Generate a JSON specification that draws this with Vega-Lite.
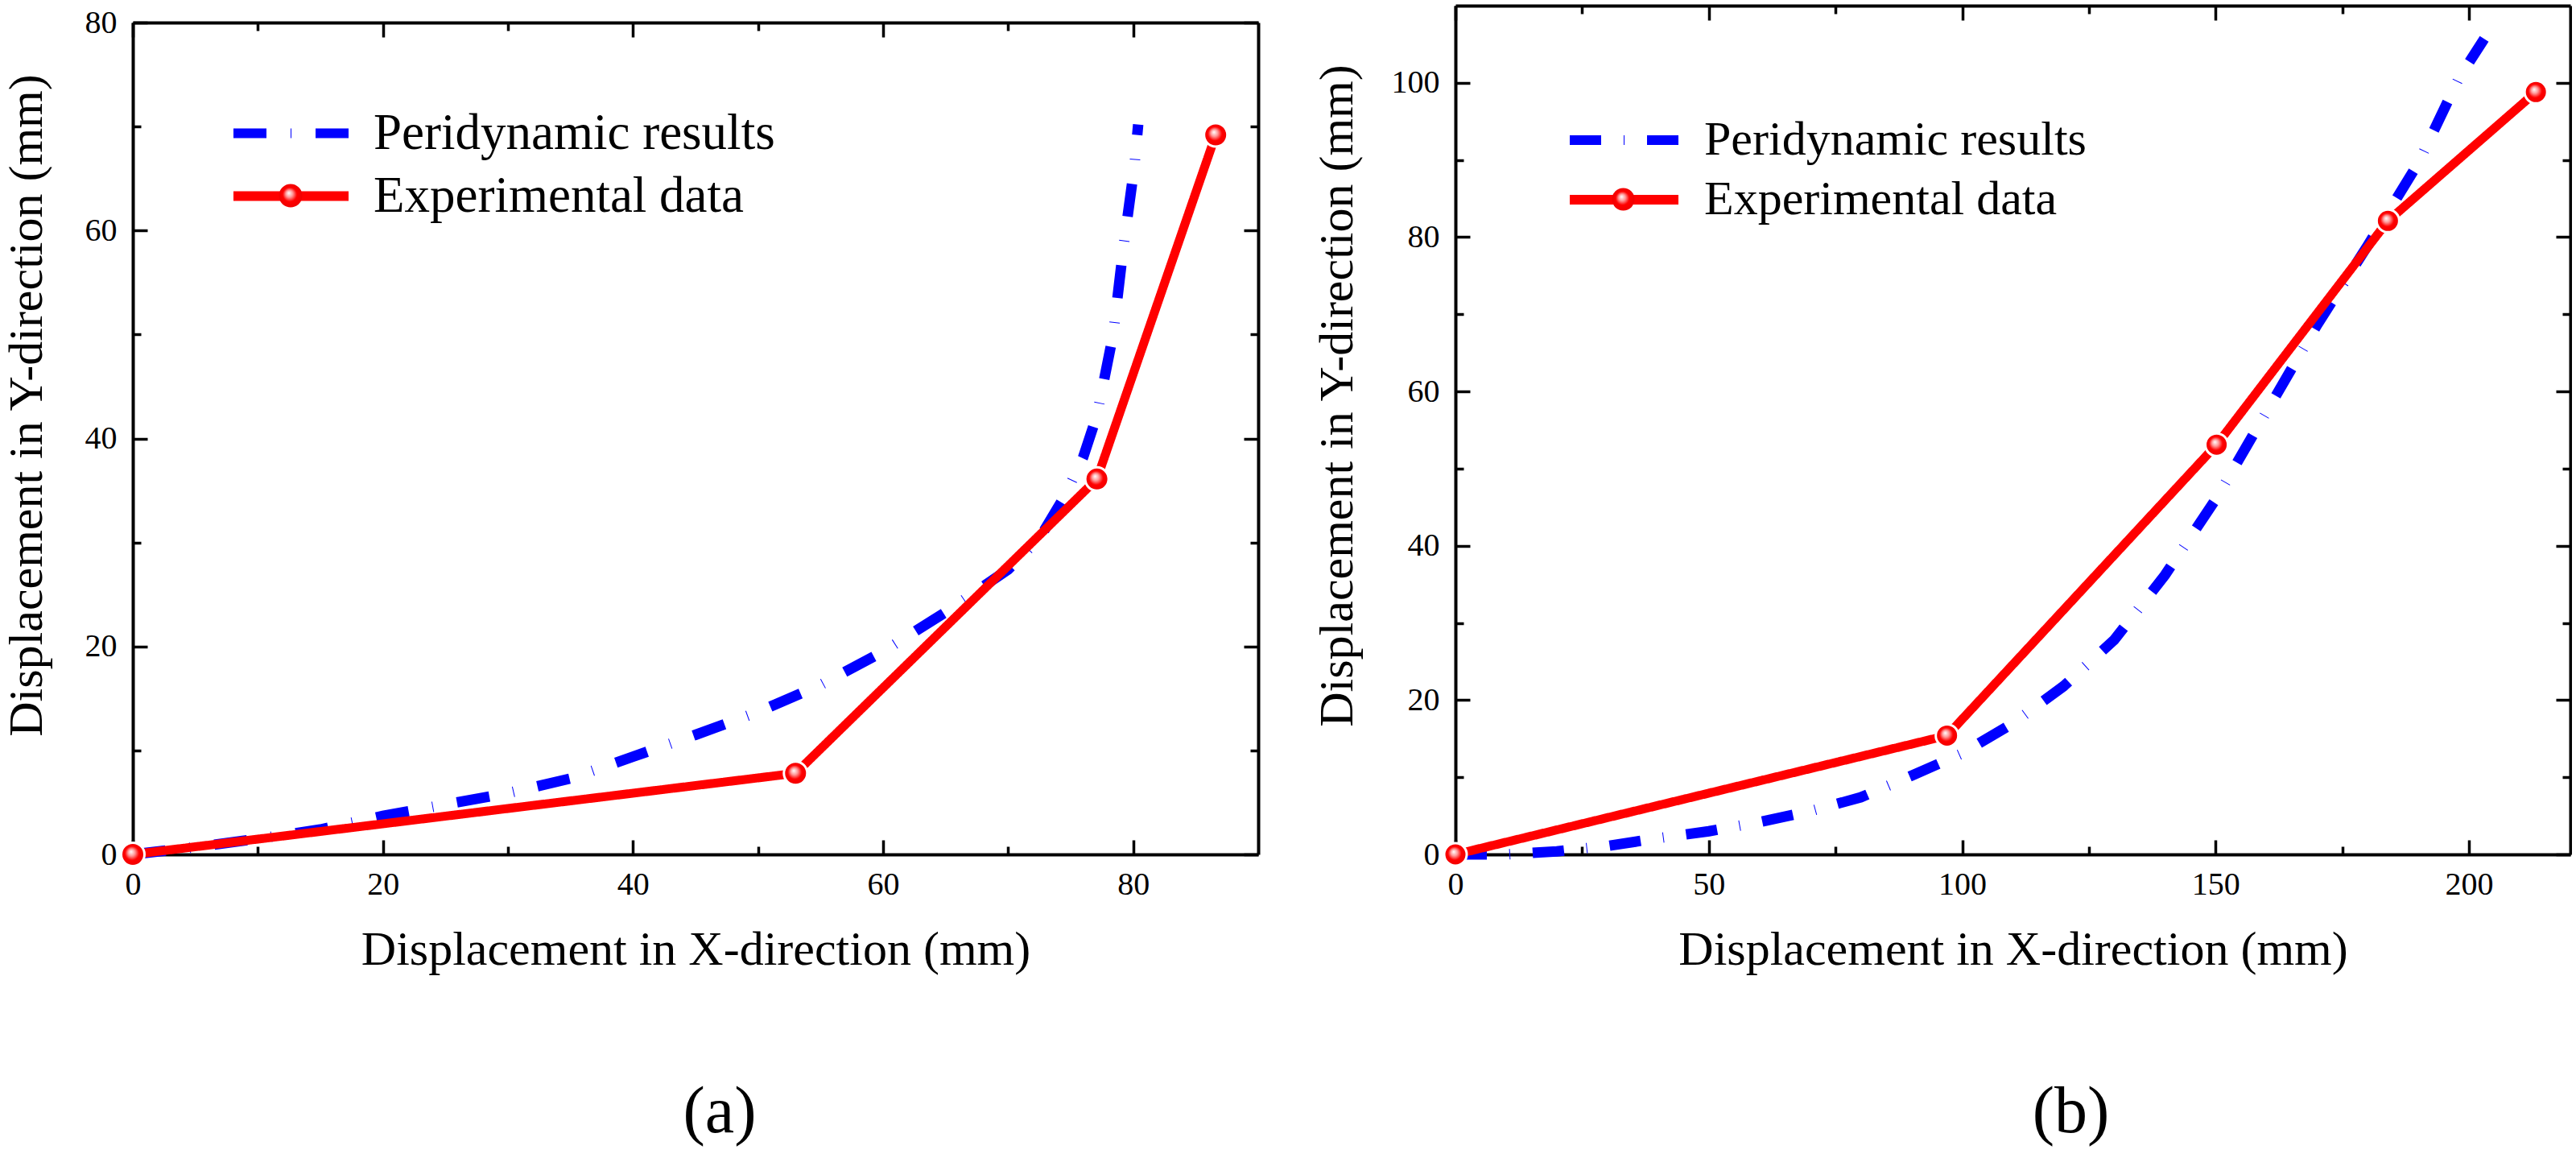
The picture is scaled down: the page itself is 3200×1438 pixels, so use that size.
{
  "$schema": "https://vega.github.io/schema/vega-lite/v6.json",
  "padding": {"left": 2, "top": 5, "right": 0, "bottom": 6},
  "background": "white",
  "columns": 2,
  "spacing": 65,
  "resolve": {"scale": {"color": "independent", "strokeDash": "independent", "shape": "independent"}},
  "datasets": {
    "a_pd": [
      {"series": "Peridynamic results", "x": 0, "y": 0},
      {"series": "Peridynamic results", "x": 5, "y": 0.7},
      {"series": "Peridynamic results", "x": 10, "y": 1.5},
      {"series": "Peridynamic results", "x": 15, "y": 2.4},
      {"series": "Peridynamic results", "x": 20, "y": 3.7},
      {"series": "Peridynamic results", "x": 25, "y": 4.8},
      {"series": "Peridynamic results", "x": 30, "y": 5.9},
      {"series": "Peridynamic results", "x": 35, "y": 7.3},
      {"series": "Peridynamic results", "x": 40, "y": 9.4},
      {"series": "Peridynamic results", "x": 45, "y": 11.5},
      {"series": "Peridynamic results", "x": 50, "y": 13.7},
      {"series": "Peridynamic results", "x": 55, "y": 16.3},
      {"series": "Peridynamic results", "x": 60, "y": 19.5},
      {"series": "Peridynamic results", "x": 65, "y": 23.3},
      {"series": "Peridynamic results", "x": 70, "y": 27.4},
      {"series": "Peridynamic results", "x": 72.5, "y": 30.4},
      {"series": "Peridynamic results", "x": 74.5, "y": 34.4},
      {"series": "Peridynamic results", "x": 76, "y": 38.2},
      {"series": "Peridynamic results", "x": 77.1, "y": 42.2},
      {"series": "Peridynamic results", "x": 78.4, "y": 50},
      {"series": "Peridynamic results", "x": 79.2, "y": 58.2},
      {"series": "Peridynamic results", "x": 80.1, "y": 66.2},
      {"series": "Peridynamic results", "x": 80.4, "y": 70.2}
    ],
    "a_exp": [
      {"series": "Experimental data", "x": 0, "y": 0},
      {"series": "Experimental data", "x": 53, "y": 7.8},
      {"series": "Experimental data", "x": 77.1, "y": 36.1},
      {"series": "Experimental data", "x": 86.6, "y": 69.2}
    ],
    "b_pd": [
      {"series": "Peridynamic results", "x": 0, "y": 0},
      {"series": "Peridynamic results", "x": 10, "y": 0},
      {"series": "Peridynamic results", "x": 20, "y": 0.4},
      {"series": "Peridynamic results", "x": 30, "y": 1.1},
      {"series": "Peridynamic results", "x": 40, "y": 2.1},
      {"series": "Peridynamic results", "x": 50, "y": 3.0},
      {"series": "Peridynamic results", "x": 60, "y": 4.2},
      {"series": "Peridynamic results", "x": 70, "y": 5.6},
      {"series": "Peridynamic results", "x": 80, "y": 7.4},
      {"series": "Peridynamic results", "x": 90, "y": 10.2},
      {"series": "Peridynamic results", "x": 100, "y": 13.1},
      {"series": "Peridynamic results", "x": 110, "y": 17},
      {"series": "Peridynamic results", "x": 120, "y": 21.8},
      {"series": "Peridynamic results", "x": 130, "y": 27.8},
      {"series": "Peridynamic results", "x": 140, "y": 36.2},
      {"series": "Peridynamic results", "x": 150, "y": 46},
      {"series": "Peridynamic results", "x": 160, "y": 57.3},
      {"series": "Peridynamic results", "x": 170, "y": 68.6},
      {"series": "Peridynamic results", "x": 180, "y": 78.9},
      {"series": "Peridynamic results", "x": 190, "y": 89.6},
      {"series": "Peridynamic results", "x": 198, "y": 100.6},
      {"series": "Peridynamic results", "x": 203, "y": 105.7}
    ],
    "b_exp": [
      {"series": "Experimental data", "x": 0, "y": 0},
      {"series": "Experimental data", "x": 97, "y": 15.4},
      {"series": "Experimental data", "x": 150.2, "y": 53.1},
      {"series": "Experimental data", "x": 184, "y": 82.1},
      {"series": "Experimental data", "x": 213.2, "y": 98.8}
    ]
  },
  "concat": [
    {
      "width": 1398,
      "height": 1054,
      "title": {"text": "(a)", "orient": "bottom", "anchor": "middle", "dx": 30, "offset": 132, "fontSize": 82},
      "resolve": {"axis": {"x": "independent", "y": "independent"}},
      "layer": [
        {
          "data": {"name": "a_pd"},
          "mark": {"type": "line", "strokeWidth": 13, "strokeCap": "butt"},
          "encoding": {
            "x": {"field": "x", "type": "quantitative", "scale": {"domain": [0, 90], "nice": false},
              "axis": {"orient": "bottom", "values": [0, 10, 20, 30, 40, 50, 60, 70, 80], "title": "Displacement in X-direction (mm)",
                "labelExpr": "datum.value % 20 === 0 ? datum.label : ''",
                "tickSize": {"condition": {"test": "datum.value % 20 === 0", "value": -18}, "value": -10}}},
            "y": {"field": "y", "type": "quantitative", "scale": {"domain": [0, 80], "nice": false, "range": [1054, 21]},
              "axis": {"orient": "left", "values": [0, 10, 20, 30, 40, 50, 60, 70, 80], "title": "Displacement in Y-direction (mm)", "titleX": -101, "titleY": 496,
                "labelExpr": "datum.value % 20 === 0 ? datum.label : ''",
                "tickSize": {"condition": {"test": "datum.value % 20 === 0", "value": -18}, "value": -10}}},
            "color": {"field": "series", "type": "nominal",
              "scale": {"domain": ["Peridynamic results", "Experimental data"], "range": ["#0000ff", "#ff0000"]},
              "legend": {"orient": "none", "legendX": 119, "legendY": 127, "symbolType": "stroke", "symbolStrokeWidth": 12, "symbolSize": 20449, "clipHeight": 63, "labelFontSize": 63, "labelOffset": 25, "rowPadding": 14}},
            "strokeDash": {"field": "series", "type": "nominal",
              "scale": {"domain": ["Peridynamic results", "Experimental data"], "range": [[41, 30, 1, 30], [1, 0]]},
              "legend": {"orient": "none", "legendX": 119, "legendY": 127, "symbolType": "stroke", "symbolStrokeWidth": 12, "symbolSize": 20449, "clipHeight": 63, "labelFontSize": 63, "labelOffset": 25, "rowPadding": 14}}
          }
        },
        {
          "data": {"name": "a_exp"},
          "mark": {"type": "line", "strokeWidth": 11, "strokeCap": "butt"},
          "encoding": {
            "x": {"field": "x", "type": "quantitative", "axis": null},
            "y": {"field": "y", "type": "quantitative", "axis": null},
            "color": {"field": "series", "type": "nominal",
              "scale": {"domain": ["Peridynamic results", "Experimental data"], "range": ["#0000ff", "#ff0000"]},
              "legend": {"orient": "none", "legendX": 119, "legendY": 127, "symbolType": "stroke", "symbolStrokeWidth": 12, "symbolSize": 20449, "clipHeight": 63, "labelFontSize": 63, "labelOffset": 25, "rowPadding": 14}},
            "strokeDash": {"field": "series", "type": "nominal",
              "scale": {"domain": ["Peridynamic results", "Experimental data"], "range": [[41, 30, 1, 30], [1, 0]]},
              "legend": {"orient": "none", "legendX": 119, "legendY": 127, "symbolType": "stroke", "symbolStrokeWidth": 12, "symbolSize": 20449, "clipHeight": 63, "labelFontSize": 63, "labelOffset": 25, "rowPadding": 14}}
          }
        },
        {
          "data": {"name": "a_exp"},
          "mark": {"type": "point", "filled": true, "size": 841, "stroke": "white", "strokeWidth": 3, "opacity": 1,
            "fill": {"gradient": "radial", "x1": 0.42, "y1": 0.38, "r1": 0, "x2": 0.5, "y2": 0.5, "r2": 0.5,
              "stops": [{"offset": 0, "color": "#ffffff"}, {"offset": 0.3, "color": "#ff9a9a"}, {"offset": 0.6, "color": "#ff0000"}, {"offset": 1, "color": "#f00000"}]}},
          "encoding": {
            "x": {"field": "x", "type": "quantitative",
              "axis": {"orient": "top", "offset": -21, "values": [0, 10, 20, 30, 40, 50, 60, 70, 80], "labels": false, "title": null,
                "tickSize": {"condition": {"test": "datum.value % 20 === 0", "value": -18}, "value": -10}}},
            "y": {"field": "y", "type": "quantitative",
              "axis": {"orient": "right", "values": [0, 10, 20, 30, 40, 50, 60, 70, 80], "labels": false, "title": null,
                "tickSize": {"condition": {"test": "datum.value % 20 === 0", "value": -18}, "value": -10}}},
            "shape": {"field": "series", "type": "nominal", "scale": {"domain": ["Experimental data"], "range": ["circle"]},
              "legend": {"orient": "none", "legendX": 180, "legendY": 220, "symbolType": "circle", "symbolSize": 841, "symbolStrokeWidth": 3, "symbolStrokeColor": "white", "symbolFillColor": "#ff0000",
                "labelExpr": "''", "labelFontSize": 1, "labelOpacity": 0}}
          }
        }
      ]
    },
    {
      "width": 1385,
      "height": 1054,
      "title": {"text": "(b)", "orient": "bottom", "anchor": "middle", "dx": 72, "offset": 132, "fontSize": 82},
      "resolve": {"axis": {"x": "independent", "y": "independent"}},
      "layer": [
        {
          "data": {"name": "b_pd"},
          "mark": {"type": "line", "strokeWidth": 13, "strokeCap": "butt"},
          "encoding": {
            "x": {"field": "x", "type": "quantitative", "scale": {"domain": [0, 220], "nice": false},
              "axis": {"orient": "bottom", "values": [0, 25, 50, 75, 100, 125, 150, 175, 200], "title": "Displacement in X-direction (mm)",
                "labelExpr": "datum.value % 50 === 0 ? datum.label : ''",
                "tickSize": {"condition": {"test": "datum.value % 50 === 0", "value": -18}, "value": -10}}},
            "y": {"field": "y", "type": "quantitative", "scale": {"domain": [0, 110], "nice": false},
              "axis": {"orient": "left", "values": [0, 10, 20, 30, 40, 50, 60, 70, 80, 90, 100], "title": "Displacement in Y-direction (mm)", "titleX": -116, "titleY": 484,
                "labelExpr": "datum.value % 20 === 0 ? datum.label : ''",
                "tickSize": {"condition": {"test": "datum.value % 20 === 0", "value": -18}, "value": -10}}},
            "color": {"field": "series", "type": "nominal",
              "scale": {"domain": ["Peridynamic results", "Experimental data"], "range": ["#0000ff", "#ff0000"]},
              "legend": {"orient": "none", "legendX": 136, "legendY": 137, "symbolType": "stroke", "symbolStrokeWidth": 12, "symbolSize": 18225, "clipHeight": 60, "labelFontSize": 60, "labelOffset": 26, "rowPadding": 14}},
            "strokeDash": {"field": "series", "type": "nominal",
              "scale": {"domain": ["Peridynamic results", "Experimental data"], "range": [[39, 28, 1, 28], [1, 0]]},
              "legend": {"orient": "none", "legendX": 136, "legendY": 137, "symbolType": "stroke", "symbolStrokeWidth": 12, "symbolSize": 18225, "clipHeight": 60, "labelFontSize": 60, "labelOffset": 26, "rowPadding": 14}}
          }
        },
        {
          "data": {"name": "b_exp"},
          "mark": {"type": "line", "strokeWidth": 11, "strokeCap": "butt"},
          "encoding": {
            "x": {"field": "x", "type": "quantitative", "axis": null},
            "y": {"field": "y", "type": "quantitative", "axis": null},
            "color": {"field": "series", "type": "nominal",
              "scale": {"domain": ["Peridynamic results", "Experimental data"], "range": ["#0000ff", "#ff0000"]},
              "legend": {"orient": "none", "legendX": 136, "legendY": 137, "symbolType": "stroke", "symbolStrokeWidth": 12, "symbolSize": 18225, "clipHeight": 60, "labelFontSize": 60, "labelOffset": 26, "rowPadding": 14}},
            "strokeDash": {"field": "series", "type": "nominal",
              "scale": {"domain": ["Peridynamic results", "Experimental data"], "range": [[39, 28, 1, 28], [1, 0]]},
              "legend": {"orient": "none", "legendX": 136, "legendY": 137, "symbolType": "stroke", "symbolStrokeWidth": 12, "symbolSize": 18225, "clipHeight": 60, "labelFontSize": 60, "labelOffset": 26, "rowPadding": 14}}
          }
        },
        {
          "data": {"name": "b_exp"},
          "mark": {"type": "point", "filled": true, "size": 784, "stroke": "white", "strokeWidth": 3, "opacity": 1,
            "fill": {"gradient": "radial", "x1": 0.42, "y1": 0.38, "r1": 0, "x2": 0.5, "y2": 0.5, "r2": 0.5,
              "stops": [{"offset": 0, "color": "#ffffff"}, {"offset": 0.3, "color": "#ff9a9a"}, {"offset": 0.6, "color": "#ff0000"}, {"offset": 1, "color": "#f00000"}]}},
          "encoding": {
            "x": {"field": "x", "type": "quantitative",
              "axis": {"orient": "top", "values": [0, 25, 50, 75, 100, 125, 150, 175, 200], "labels": false, "title": null,
                "tickSize": {"condition": {"test": "datum.value % 50 === 0", "value": -18}, "value": -10}}},
            "y": {"field": "y", "type": "quantitative",
              "axis": {"orient": "right", "values": [0, 10, 20, 30, 40, 50, 60, 70, 80, 90, 100], "labels": false, "title": null,
                "tickSize": {"condition": {"test": "datum.value % 20 === 0", "value": -18}, "value": -10}}},
            "shape": {"field": "series", "type": "nominal", "scale": {"domain": ["Experimental data"], "range": ["circle"]},
              "legend": {"orient": "none", "legendX": 193, "legendY": 225, "symbolType": "circle", "symbolSize": 784, "symbolStrokeWidth": 3, "symbolStrokeColor": "white", "symbolFillColor": "#ff0000",
                "labelExpr": "''", "labelFontSize": 1, "labelOpacity": 0}}
          }
        }
      ]
    }
  ],
  "config": {
    "view": {"stroke": null},
    "font": "Liberation Serif",
    "axis": {
      "grid": false, "domainColor": "black", "domainWidth": 4, "tickColor": "black", "tickWidth": 3.5,
      "labelFont": "Liberation Serif", "labelFontSize": 40, "labelColor": "black", "labelPadding": 38,
      "labelFlush": false, "labelOverlap": false,
      "titleFont": "Liberation Serif", "titleFontSize": 60, "titleFontWeight": "normal", "titleColor": "black", "titlePadding": 24
    },
    "axisX": {"labelPadding": 35},
    "legend": {"title": null, "padding": 0, "labelFont": "Liberation Serif", "labelColor": "black", "labelLimit": 2000, "symbolOpacity": 1},
    "title": {"font": "Liberation Serif", "fontWeight": "normal", "color": "black"}
  }
}
